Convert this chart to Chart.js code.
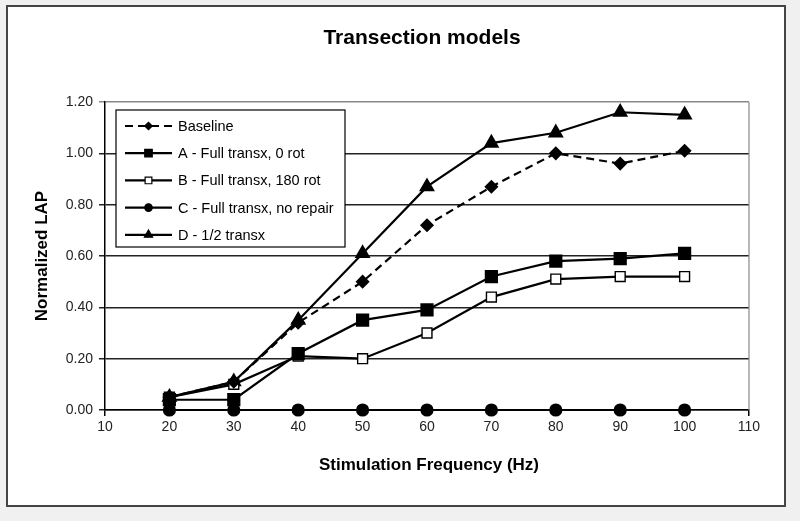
<!DOCTYPE html>
<html>
<head>
<meta charset="utf-8">
<script src="https://cdn.jsdelivr.net/npm/chart.js@4/dist/chart.umd.min.js"></script>
<style>
html,body{margin:0;padding:0;background:#f0f0f0;}
#wrap{position:absolute;left:0;top:0;width:800px;height:521px;}
</style>
</head>
<body>
<div id="wrap"><canvas id="c" width="800" height="521"></canvas></div>
<script>
const chartTitle = "Transection models";
const xTitle = "Stimulation Frequency (Hz)";
const yTitle = "Normalized LAP";
const frequencies = [20, 30, 40, 50, 60, 70, 80, 90, 100];
const seriesNames = ["Baseline", "A - Full transx, 0 rot", "B - Full transx, 180 rot", "C - Full transx, no repair", "D - 1/2 transx"];
const baseline = [0.05, 0.11, 0.34, 0.50, 0.72, 0.87, 1.00, 0.96, 1.01];
const seriesA = [0.04, 0.04, 0.22, 0.35, 0.39, 0.52, 0.58, 0.59, 0.61];
const seriesB = [0.05, 0.10, 0.21, 0.20, 0.30, 0.44, 0.51, 0.52, 0.52];
const seriesC = [0, 0, 0, 0, 0, 0, 0, 0, 0];
const seriesD = [0.05, 0.11, 0.35, 0.61, 0.87, 1.04, 1.08, 1.16, 1.15];
const xTicks = [10, 20, 30, 40, 50, 60, 70, 80, 90, 100, 110];
const yTicks = [0, 0.2, 0.4, 0.6, 0.8, 1.0, 1.2];

const pts = arr => arr.map((v, i) => ({x: frequencies[i], y: v}));
const FONT = "'Liberation Sans', Arial, sans-serif";

const datasets = [
  {label: seriesNames[0], data: pts(baseline), backgroundColor:'#000', borderDash:[8,5], pointStyle:'rectRot', pointRadius:5.5},
  {label: seriesNames[1], data: pts(seriesA), backgroundColor:'#000', pointStyle:'rect', pointRadius:7.8},
  {label: seriesNames[2], data: pts(seriesB), backgroundColor:'#fff', pointBorderWidth:1.4, pointStyle:'rect', pointRadius:7},
  {label: seriesNames[3], data: pts(seriesC), backgroundColor:'#000', pointStyle:'circle', pointRadius:5.5},
  {label: seriesNames[4], data: pts(seriesD), backgroundColor:'#000', pointStyle:'triangle', pointRadius:7}
];
datasets.forEach(d => {
  d.borderColor = '#000'; d.borderWidth = 2.2; d.tension = 0;
  d.pointBorderColor = '#000'; d.pointBackgroundColor = d.backgroundColor;
  d.fill = false; d.clip = false;
});

const deco = {
  id: 'deco',
  beforeDraw(chart) {
    const ctx = chart.ctx;
    ctx.save();
    ctx.fillStyle = '#f0f0f0';
    ctx.fillRect(0, 0, 800, 521);
    ctx.fillStyle = '#fff';
    ctx.fillRect(7, 6, 778, 500);
    ctx.strokeStyle = '#444';
    ctx.lineWidth = 2;
    ctx.strokeRect(7, 6, 778, 500);
    ctx.restore();
  },
  afterDatasetsDraw(chart) {
    const ctx = chart.ctx;
    ctx.save();
    const lx = 116, ly = 110, lw = 229, lh = 137;
    ctx.fillStyle = '#fff';
    ctx.fillRect(lx, ly, lw, lh);
    ctx.strokeStyle = '#000';
    ctx.lineWidth = 1.2;
    ctx.strokeRect(lx, ly, lw, lh);
    ctx.font = "14.5px " + FONT;
    ctx.textAlign = 'left';
    ctx.textBaseline = 'middle';
    chart.data.datasets.forEach((d, i) => {
      const y = 126 + i * 27.2;
      ctx.strokeStyle = '#000';
      ctx.lineWidth = 2.2;
      ctx.setLineDash(d.borderDash || []);
      ctx.beginPath();
      ctx.moveTo(125, y); ctx.lineTo(172, y);
      ctx.stroke();
      ctx.setLineDash([]);
      ctx.fillStyle = d.backgroundColor;
      ctx.strokeStyle = '#000';
      ctx.lineWidth = 1.2;
      Chart.helpers.drawPoint(ctx, {pointStyle: d.pointStyle, radius: d.pointRadius * 0.68, borderWidth: 1.2, rotation: 0}, 148.5, y);
      ctx.fillStyle = '#000';
      ctx.fillText(d.label, 178, y + 1);
    });
    ctx.restore();
  },
  afterDraw(chart) {
    const ctx = chart.ctx;
    const a = chart.chartArea;
    ctx.save();
    ctx.strokeStyle = '#888';
    ctx.lineWidth = 1.2;
    ctx.beginPath();
    ctx.moveTo(a.right, a.top); ctx.lineTo(a.right, a.bottom);
    ctx.stroke();
    ctx.fillStyle = '#000';
    ctx.textAlign = 'center';
    ctx.textBaseline = 'middle';
    ctx.font = "bold 21px " + FONT;
    ctx.fillText(chartTitle, 422, 38);
    ctx.font = "bold 17px " + FONT;
    ctx.fillText(xTitle, (a.left + a.right) / 2 + 2, 465);
    ctx.save();
    ctx.translate(42, (a.top + a.bottom) / 2);
    ctx.rotate(-Math.PI / 2);
    ctx.fillText(yTitle, 0, 0);
    ctx.restore();
    ctx.restore();
  }
};

new Chart(document.getElementById('c'), {
  type: 'line',
  data: { datasets },
  options: {
    responsive: false,
    animation: false,
    devicePixelRatio: 1,
    layout: { padding: { left: 0, top: 102, right: 51, bottom: 0 } },
    plugins: { legend: { display: false }, title: { display: false }, tooltip: { enabled: false } },
    scales: {
      x: {
        type: 'linear', min: 10, max: 110,
        afterFit(s) { s.height = 111; },
        afterBuildTicks(s) { s.ticks = xTicks.map(v => ({value: v})); },
        grid: { drawOnChartArea: false, drawTicks: true, tickLength: 6, color: '#000', lineWidth: 1.5 },
        border: { color: '#000', width: 1.5 },
        ticks: { color: '#222', font: { family: FONT, size: 14 }, padding: 3, maxRotation: 0, autoSkip: false }
      },
      y: {
        type: 'linear', min: 0, max: 1.2,
        afterFit(s) { s.width = 105; },
        afterBuildTicks(s) { s.ticks = yTicks.map(v => ({value: v})); },
        grid: { drawTicks: true, tickLength: 6, color: c => (c.tick && Math.abs(c.tick.value - 1.2) < 1e-6) ? '#888' : '#222', lineWidth: 1.5 },
        border: { color: '#000', width: 1.5 },
        ticks: { color: '#222', font: { family: FONT, size: 14 }, padding: 6, callback: v => Number(v).toFixed(2) }
      }
    }
  },
  plugins: [deco]
});
</script>
</body>
</html>
